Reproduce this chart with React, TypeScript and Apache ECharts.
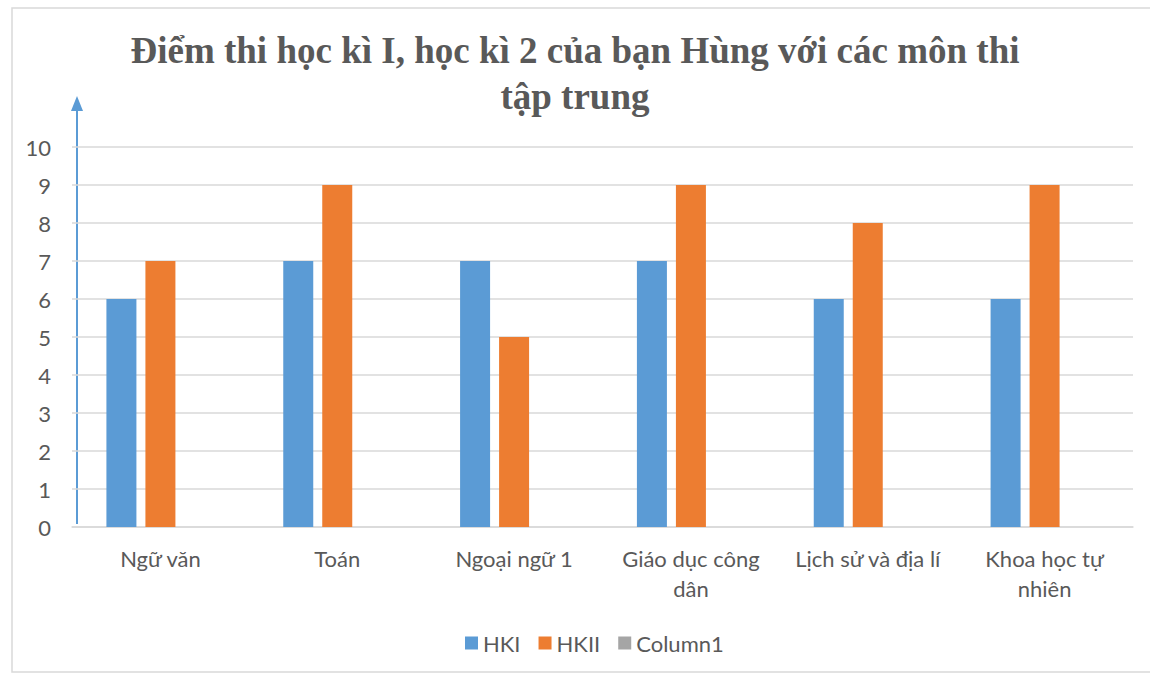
import React, { useEffect, useRef } from "react";
import * as echarts from "echarts";

const categories = ["Ngữ văn", "Toán", "Ngoại ngữ 1", "Giáo dục công dân", "Lịch sử và địa lí", "Khoa học tự nhiên"];
const categoryLabels = ["Ngữ văn", "Toán", "Ngoại ngữ 1", "Giáo dục công\ndân", "Lịch sử và địa lí", "Khoa học tự\nnhiên"];
const hk1 = [6, 7, 7, 7, 6, 6];
const hk2 = [7, 9, 5, 9, 8, 9];
const column1: (number | null)[] = [null, null, null, null, null, null];
const seriesNames = ["HKI", "HKII", "Column1"];
const titleText = "Điểm thi học kì I, học kì 2 của bạn Hùng với các môn thi\ntập trung";

export default function App() {
  const ref = useRef<HTMLDivElement>(null);
  useEffect(() => {
    document.body.style.margin = "0";
    const chart = echarts.init(ref.current!, null, { renderer: "svg" });
    const textColor = "#595959";
    const font = "Lato, 'Open Sans', sans-serif";
    chart.setOption({
      animation: false,
      backgroundColor: "#ffffff",
      title: {
        text: titleText,
        left: "center",
        top: 22,
        textStyle: {
          fontFamily: "'Liberation Serif', 'Times New Roman', serif",
          fontWeight: "bold",
          fontSize: 37,
          lineHeight: 46,
          color: textColor,
        },
      },
      legend: {
        data: seriesNames,
        left: 460,
        top: 627,
        icon: "rect",
        itemWidth: 13,
        itemHeight: 13,
        itemGap: 18,
        textStyle: { fontFamily: font, fontSize: 22, color: textColor },
      },
      grid: { left: 72, right: 17, top: 147, bottom: 149, containLabel: false },
      xAxis: {
        type: "category",
        data: categories,
        axisLine: { lineStyle: { color: "#d9d9d9", width: 1.5 } },
        axisTick: { show: false },
        axisLabel: {
          color: textColor,
          fontFamily: font,
          fontSize: 22,
          margin: 16,
          lineHeight: 30,
          interval: 0,
          formatter: (_v: string, i: number) => categoryLabels[i],
        },
      },
      yAxis: {
        type: "value",
        min: 0,
        max: 10,
        interval: 1,
        axisLine: { show: false },
        axisTick: { show: false },
        splitLine: { lineStyle: { color: "#d9d9d9", width: 1.5 } },
        axisLabel: { color: textColor, fontFamily: font, fontSize: 22, margin: 21 },
      },
      series: [
        { name: seriesNames[0], type: "bar", data: hk1, barWidth: 30, barGap: "30%", itemStyle: { color: "#5B9BD5" } },
        { name: seriesNames[1], type: "bar", data: hk2, barWidth: 30, barGap: "30%", itemStyle: { color: "#ED7D31" } },
        { name: seriesNames[2], type: "bar", data: column1, barWidth: 30, barGap: "30%", itemStyle: { color: "#A5A5A5" } },
      ],
      graphic: [
        {
          type: "rect",
          shape: { x: 12, y: 8, width: 1150, height: 664 },
          style: { fill: "none", stroke: "#d9d9d9", lineWidth: 1.5 },
          silent: true,
        },
        {
          type: "line",
          shape: { x1: 77, y1: 524, x2: 77, y2: 108 },
          style: { stroke: "#5B9BD5", lineWidth: 2 },
          silent: true,
        },
        {
          type: "polygon",
          shape: { points: [[77, 96], [71, 111], [83, 111]] },
          style: { fill: "#5B9BD5" },
          silent: true,
        },
      ],
    });
    return () => chart.dispose();
  }, []);
  return <div ref={ref} style={{ width: 1150, height: 676 }} />;
}
